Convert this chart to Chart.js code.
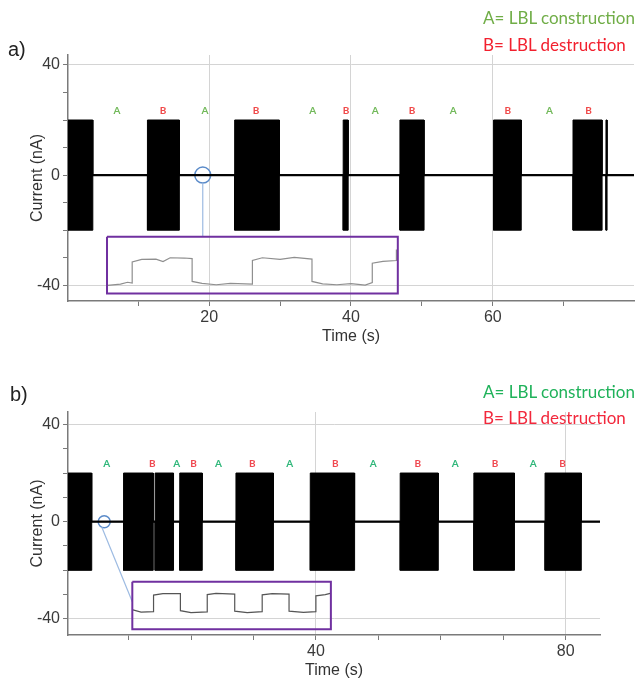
<!DOCTYPE html>
<html>
<head>
<meta charset="utf-8">
<script src="https://cdn.jsdelivr.net/npm/chart.js@4.4.1/dist/chart.umd.min.js"></script>
<style>
  body { margin: 0; background: #fff; }
  #page { position: relative; width: 644px; height: 682px; overflow: hidden; }
  canvas { position: absolute; left: 0; }
  .tag { position: absolute; font-family: "Liberation Sans", Arial, sans-serif; font-size: 20px; color: #222; }
  .key { position: absolute; left: 483px; font-family: Lato, "Open Sans", sans-serif; font-size: 17px; line-height: 20px; white-space: nowrap; }
</style>
</head>
<body>
<div id="page">
  <canvas id="chartA" width="644" height="350" style="top:0"></canvas>
  <canvas id="chartB" width="644" height="332" style="top:350px"></canvas>

  <div class="tag" style="left:8px; top:38px">a)</div>
  <div class="key" style="top:8px; color:#70ad47">A= LBL construction</div>
  <div class="key" style="top:35px; color:#f2202e">B= LBL destruction</div>

  <div class="tag" style="left:10px; top:383px">b)</div>
  <div class="key" style="top:382px; color:#1fb25a">A= LBL construction</div>
  <div class="key" style="top:408px; color:#f2283c">B= LBL destruction</div>
</div>

<script>
// ---- panel a data (time in s, current in nA) ----
const aBlockStart = [0.1, 11.3, 23.6, 38.9, 46.9, 60.1, 71.3, 75.95];
const aBlockEnd   = [3.6, 15.8, 29.9, 39.6, 50.3, 64.0, 75.4, 76.1];
const aLabelX     = [7.0, 13.5, 19.4, 26.6, 34.6, 39.3, 43.4, 48.6, 54.4, 62.1, 68.0, 73.5];
const aLabelText  = ['A', 'B', 'A', 'B', 'A', 'B', 'A', 'B', 'A', 'B', 'A', 'B'];
const aInsetBoxX  = [5.6, 46.6];
const aInsetBoxY  = [-43.0, -22.4];
const aInsetX = [5.7, 7.5, 8.5, 9.15, 9.15, 10.5, 12.5, 13.5, 14.5, 16.5, 17.6, 17.6, 19.0, 21.0, 23.0, 26.1,
                 26.1, 27.5, 30.0, 32.0, 34.5, 34.5, 36.0, 38.0, 40.0, 42.0, 43.0, 43.0, 44.5, 46.4, 46.4];
const aInsetY = [-40.0, -39.6, -38.9, -39.2, -31.5, -30.6, -30.5, -31.4, -30.0, -30.1, -30.3, -38.6, -39.3, -39.8, -39.3, -39.6,
                 -31.0, -30.0, -30.6, -29.9, -30.5, -38.6, -39.5, -39.8, -39.4, -39.9, -39.0, -32.0, -31.3, -31.0, -27.0];
const aZoomX = [19.1];
const aZoomY = [0];
const aLinkX = [19.1, 19.1];
const aLinkY = [-3.0, -22.4];
const aXTicks = [10, 20, 30, 40, 50, 60, 70];
const aXLabels = [20, 40, 60];

// ---- panel b data ----
const bBlockStart = [0.3, 9.2, 14.25, 18.2, 27.2, 39.1, 53.5, 65.3, 76.7];
const bBlockEnd   = [4.1, 13.95, 17.2, 21.8, 33.2, 46.2, 59.6, 71.8, 82.5];
const bLabelX     = [6.5, 13.8, 17.7, 20.4, 24.4, 29.8, 35.8, 43.1, 49.2, 56.3, 62.3, 68.7, 74.8, 79.5];
const bLabelText  = ['A', 'B', 'A', 'B', 'A', 'B', 'A', 'B', 'A', 'B', 'A', 'B', 'A', 'B'];
const bInsetBoxX  = [10.6, 42.4];
const bInsetBoxY  = [-44.2, -24.7];
const bInsetX = [10.7, 12.0, 14.0, 14.0, 15.5, 18.3, 18.3, 20.0, 22.6, 22.6, 24.0, 27.0, 27.0, 29.0, 31.4,
                 31.4, 33.0, 35.7, 35.7, 38.0, 40.0, 40.0, 41.5, 42.3];
const bInsetY = [-36.3, -37.2, -37.0, -30.2, -29.6, -29.6, -36.6, -37.4, -37.1, -30.0, -29.5, -29.8, -36.8, -37.4, -37.0,
                 -30.1, -29.6, -29.8, -36.8, -37.3, -37.0, -30.5, -30.0, -29.5];
const bZoomX = [6.1];
const bZoomY = [0];
const bLinkX = [5.7, 10.6];
const bLinkY = [-2.2, -32.9];
const bXTicks = [10, 20, 30, 40, 50, 60, 70, 80];
const bXLabels = [40, 80];

const blockHigh = 20;
const blockLow = -20;
const yTicks = [-40, -30, -20, -10, 0, 10, 20, 30, 40];
const yLabels = [-40, 0, 40];
const yGrid = [-40, 40];

const axisFont = { family: '"Liberation Sans", Arial, sans-serif', size: 16 };

function pts(xs, ys) {
  return xs.map((x, i) => ({ x: x, y: ys[i] }));
}

// step envelope of the dense oscillation blocks
function envelope(starts, ends, level, xMin, xMax) {
  const out = [{ x: xMin, y: 0 }];
  starts.forEach((s, i) => {
    out.push({ x: s, y: 0 }, { x: s, y: level }, { x: ends[i], y: level }, { x: ends[i], y: 0 });
  });
  out.push({ x: xMax, y: 0 });
  return out;
}

function boxPts(bx, by) {
  return pts([bx[0], bx[1], bx[1], bx[0], bx[0]], [by[1], by[1], by[0], by[0], by[1]]);
}

const letterPlugin = {
  id: 'letters',
  afterDatasetsDraw(chart, args, opts) {
    const { ctx, scales: { x, y } } = chart;
    ctx.save();
    ctx.font = 'bold 10px Lato, "Liberation Sans", sans-serif';
    ctx.textAlign = 'center';
    ctx.textBaseline = 'middle';
    opts.xs.forEach((v, i) => {
      ctx.fillStyle = opts.text[i] === 'A' ? opts.colorA : opts.colorB;
      ctx.fillText(opts.text[i], x.getPixelForValue(v), y.getPixelForValue(opts.y));
    });
    ctx.restore();
  }
};

function makePanel(id, p) {
  const ctx = document.getElementById(id).getContext('2d');
  const line = { pointRadius: 0, fill: false, tension: 0 };
  return new Chart(ctx, {
    type: 'line',
    data: {
      datasets: [
        { ...line, data: envelope(p.starts, p.ends, blockHigh, p.xMin, p.xMax), borderColor: '#000', borderWidth: 1,
          backgroundColor: '#000', fill: '+1' },
        { ...line, data: envelope(p.starts, p.ends, blockLow, p.xMin, p.xMax), borderColor: '#000', borderWidth: 1 },
        { ...line, data: pts([p.xMin, p.xMax], [0, 0]), borderColor: '#111', borderWidth: 2.2 },
        { ...line, data: boxPts(p.boxX, p.boxY), borderColor: '#7030a0', borderWidth: 2 },
        { ...line, data: pts(p.insetX, p.insetY), borderColor: p.insetColor, borderWidth: 1.2 },
        { ...line, data: pts(p.linkX, p.linkY), borderColor: '#9dbbe2', borderWidth: 1.2 },
        { data: pts(p.zoomX, p.zoomY), showLine: false, pointRadius: p.zoomR, pointStyle: 'circle',
          pointBorderColor: '#5b8bc9', pointBackgroundColor: 'rgba(0,0,0,0)', pointBorderWidth: 1.5 }
      ]
    },
    options: {
      responsive: false,
      animation: false,
      events: [],
      layout: { padding: { top: p.padTop, right: p.padRight, left: 24, bottom: 0 } },
      plugins: {
        legend: { display: false },
        tooltip: { enabled: false },
        letters: { xs: p.labelX, text: p.labelText, y: p.labelY, colorA: p.colorA, colorB: p.colorB }
      },
      scales: {
        x: {
          type: 'linear', min: p.xMin, max: p.xMax,
          afterBuildTicks: s => { s.ticks = p.xTicks.map(v => ({ value: v })); },
          afterFit: s => { s.height = p.xAxisHeight; },
          ticks: { font: axisFont, color: '#3a3a3a', padding: 2, maxRotation: 0, autoSkip: false,
                   callback: v => p.xLabels.includes(v) ? String(v) : '' },
          grid: { color: c => (c.tick && p.xLabels.includes(c.tick.value)) ? '#d4d4d4' : 'rgba(0,0,0,0)',
                  tickColor: '#7a7a7a', tickLength: 5, lineWidth: 1 },
          border: { color: '#7a7a7a', width: 1.5 },
          title: { display: true, text: 'Time (s)', font: axisFont, color: '#333', padding: { top: 0, bottom: p.xTitlePad } }
        },
        y: {
          min: p.yMin, max: p.yMax,
          afterBuildTicks: s => { s.ticks = yTicks.map(v => ({ value: v })); },
          afterFit: s => { s.width = 44; },
          ticks: { font: axisFont, color: '#3a3a3a', padding: 3, autoSkip: false,
                   callback: v => yLabels.includes(v) ? String(v) : '' },
          grid: { color: c => (c.tick && yGrid.includes(c.tick.value)) ? '#d4d4d4' : 'rgba(0,0,0,0)',
                  tickColor: '#7a7a7a', tickLength: 5, lineWidth: 1 },
          border: { color: '#7a7a7a', width: 1.5 },
          title: { display: true, text: 'Current (nA)', font: axisFont, color: '#333', padding: { top: 4, bottom: 0 } }
        }
      }
    },
    plugins: [letterPlugin]
  });
}

makePanel('chartA', {
  starts: aBlockStart, ends: aBlockEnd, xMin: 0.1, xMax: 79.9, yMin: -45.7, yMax: 43.6,
  padTop: 55, padRight: 10, xAxisHeight: 49, xTitlePad: 4,
  xTicks: aXTicks, xLabels: aXLabels,
  boxX: aInsetBoxX, boxY: aInsetBoxY, insetX: aInsetX, insetY: aInsetY, insetColor: '#8f8f8f',
  linkX: aLinkX, linkY: aLinkY, zoomX: aZoomX, zoomY: aZoomY, zoomR: 8,
  labelX: aLabelX, labelText: aLabelText, labelY: 23.2, colorA: '#72b95a', colorB: '#f04848'
});

makePanel('chartB', {
  starts: bBlockStart, ends: bBlockEnd, xMin: 0.3, xMax: 85.5, yMin: -46.6, yMax: 45.1,
  padTop: 62, padRight: 44, xAxisHeight: 47, xTitlePad: 1.5,
  xTicks: bXTicks, xLabels: bXLabels,
  boxX: bInsetBoxX, boxY: bInsetBoxY, insetX: bInsetX, insetY: bInsetY, insetColor: '#555',
  linkX: bLinkX, linkY: bLinkY, zoomX: bZoomX, zoomY: bZoomY, zoomR: 6,
  labelX: bLabelX, labelText: bLabelText, labelY: 23.7, colorA: '#2fb77a', colorB: '#f04850'
});
</script>
</body>
</html>
